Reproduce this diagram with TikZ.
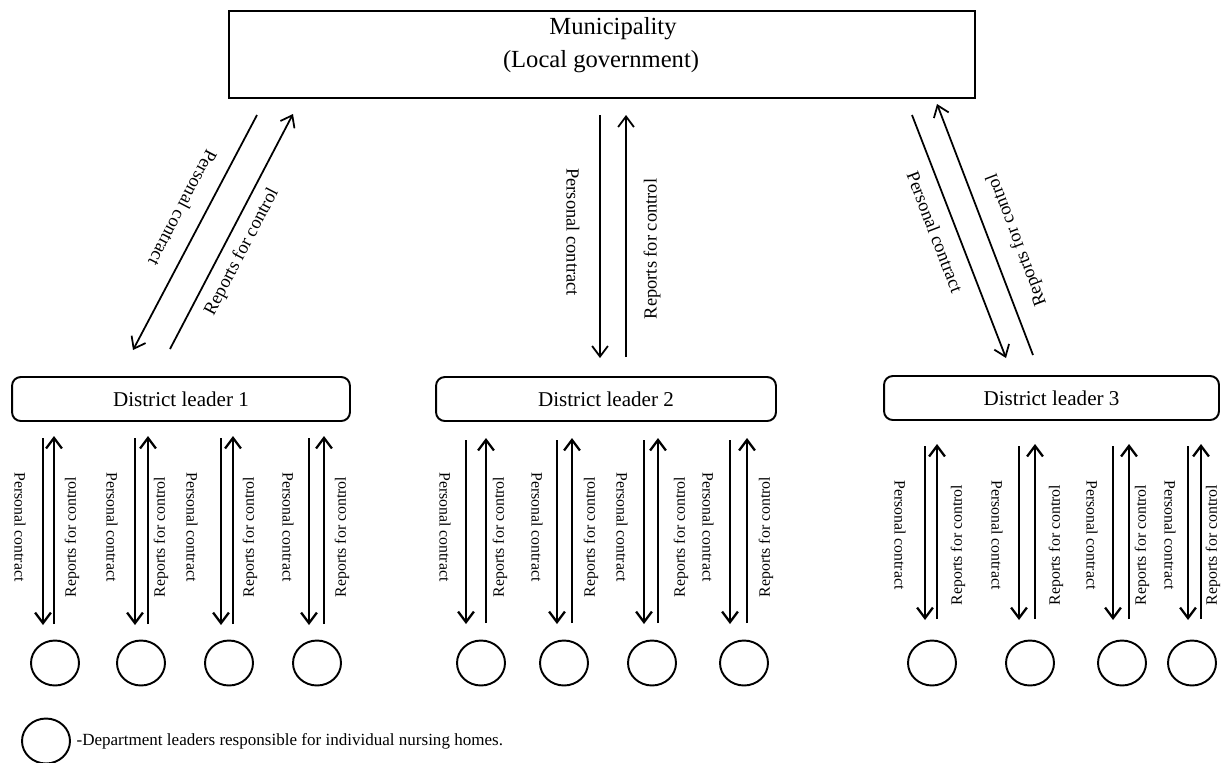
\documentclass[tikz,border=0pt]{standalone}
\usepackage{fontspec}
\setmainfont{Liberation Serif}
\usepackage{tikz}
\usetikzlibrary{arrows.meta,shapes.geometric,positioning}

\tikzset{
  munibox/.style={draw, line width=1.1pt, minimum width=14.92cm, minimum height=1.74cm, inner sep=0pt},
  topname/.style={font=\fontsize{14}{16}\selectfont, inner sep=0pt},
  distbox/.style={draw, rounded corners=5pt, line width=1.1pt, minimum height=0.88cm, inner sep=0pt, font=\fontsize{12}{14}\selectfont},
  homecirc/.style={draw, ellipse, line width=1.1pt, minimum width=0.96cm, minimum height=0.9cm, inner sep=0pt},
  toparrow/.style={line width=1pt, -{Straight Barb[length=6pt,width=9pt]}},
  lowarrow/.style={line width=1.3pt, -{Straight Barb[length=6pt,width=9pt]}},
  toplbl/.style={font=\fontsize{10.5}{12}\selectfont, inner sep=0pt},
  lowlbl/.style={font=\fontsize{9}{10}\selectfont, inner sep=0pt},
  legendtxt/.style={font=\fontsize{9.7}{12}\selectfont, inner sep=0pt}
}

\begin{document}
\begin{tikzpicture}[x=0.02cm,y=-0.02cm]
  \useasboundingbox (0,0) rectangle (1223,762);
  % 顶部: 市政府
  \node[munibox] (muni) at (602,54.5) {};
  \node[topname] (munit1) at (613,29) {Municipality};
  \node[topname] (munit2) at (601,62) {(Local government)};
  % 三个区负责人
  \node[distbox, minimum width=6.76cm] (dist1) at (181,399) {District leader 1};
  \node[distbox, minimum width=6.8cm] (dist2) at (606,399) {District leader 2};
  \node[distbox, minimum width=6.7cm] (dist3) at (1051.5,398) {District leader 3};
  % 左边一对斜箭头
  \coordinate (lpa) at (257,115);
  \coordinate (lpb) at (133,350);
  \coordinate (lra) at (170,349);
  \coordinate (lrb) at (293,114);
  \draw[toparrow] (lpa) -- (lpb);
  \draw[toparrow] (lra) -- (lrb);
  \node[toplbl, rotate=242.4] (lpt) at (183,208) {Personal contract};
  \node[toplbl, rotate=62.4] (lrt) at (242,252) {Reports for control};
  % 中间一对竖箭头
  \coordinate (mpa) at (600,115);
  \coordinate (mpb) at (600,358);
  \coordinate (mra) at (626,357);
  \coordinate (mrb) at (626,115);
  \draw[toparrow] (mpa) -- (mpb);
  \draw[toparrow] (mra) -- (mrb);
  \node[toplbl, rotate=-90] (mpt) at (573,232) {Personal contract};
  \node[toplbl, rotate=90] (mrt) at (652,249) {Reports for control};
  % 右边一对斜箭头
  \coordinate (rpa) at (912,115);
  \coordinate (rpb) at (1006,358);
  \coordinate (rra) at (1033,355);
  \coordinate (rrb) at (937,104);
  \draw[toparrow] (rpa) -- (rpb);
  \draw[toparrow] (rra) -- (rrb);
  \node[toplbl, rotate=-69] (rpt) at (935,232) {Personal contract};
  \node[toplbl, rotate=111] (rrt) at (1017,240) {Reports for control};
  % 底部: 箭头, 文字和圆圈
  \foreach \xd/\xu/\xp/\xr/\xc/\ya/\yb/\yl [count=\i] in {
      43/54/20/72/55/438/625/527, 135/148/112/161/141/438/625/527,
      221/233/192/250/229/438/625/527, 309/324/288/342/317/438/625/527,
      466/486/445/500/481/440/624/527, 557/572/537/591/564/440/624/527,
      644/658/622/681/652/440/624/527, 730/747/708/766/744/440/624/527,
      925/937/900/958/932/446/620/535, 1019/1035/997/1056/1030/446/620/535,
      1113/1129/1092/1142/1122/446/620/535, 1188/1201/1170/1213/1192/446/620/535}
  {
    \coordinate (dn-\i-a) at (\xd,\ya);
    \coordinate (dn-\i-b) at (\xd,\yb);
    \coordinate (up-\i-a) at (\xu,\yb-1);
    \coordinate (up-\i-b) at (\xu,\ya-2);
    \draw[lowarrow] (dn-\i-a) -- (dn-\i-b);
    \draw[lowarrow] (up-\i-a) -- (up-\i-b);
    \node[lowlbl, rotate=-90] (pc\i) at (\xp,\yl) {Personal contract};
    \node[lowlbl, rotate=90] (rc\i) at (\xr,\yl+10) {Reports for control};
    \node[homecirc] (home\i) at (\xc,663) {};
  }
  % 图例
  \node[homecirc] (legend) at (46,741) {};
  \node[legendtxt, right=3pt of legend] (legendt) {-Department leaders responsible for individual nursing homes.};
\end{tikzpicture}
\end{document}
